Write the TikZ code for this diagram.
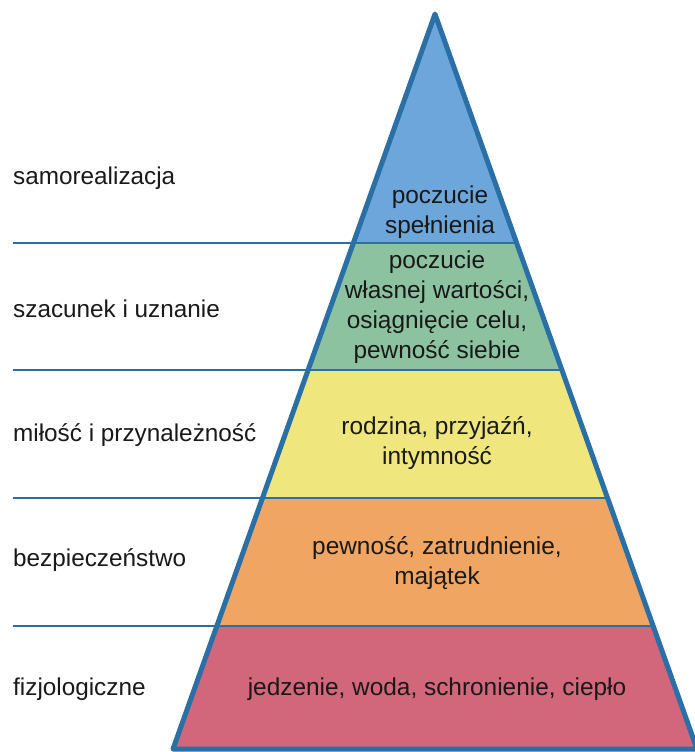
\documentclass[tikz,border=0pt]{standalone}
\usepackage{fontspec}
\setmainfont{Liberation Sans}
\usetikzlibrary{positioning, calc}
\definecolor{edgeBlue}{RGB}{42,111,165}
\definecolor{selfBlue}{RGB}{108,166,218}
\definecolor{esteemGreen}{RGB}{141,194,161}
\definecolor{loveYellow}{RGB}{240,230,126}
\definecolor{safeOrange}{RGB}{240,165,99}
\definecolor{bodyRed}{RGB}{210,102,122}
\definecolor{textDark}{RGB}{25,25,25}

\begin{document}
\begin{tikzpicture}[
    x=1pt, y=-1pt,
    need/.style={align=center, text=textDark, font=\fontsize{24.4}{30}\selectfont},
    tier/.style={anchor=west, text=textDark, inner sep=0pt, font=\fontsize{24.3}{30}\selectfont},
    sep/.style={draw=edgeBlue, line width=2.6pt},
    outline/.style={draw=edgeBlue, line width=5pt, line join=round}
]
\useasboundingbox (0,0) rectangle (694,752);

% pyramid corners
\coordinate (apex) at (435,14);
\coordinate (bl) at (173,749);
\coordinate (br) at (697,749);
\coordinate (margin) at (13,0);

% layer boundaries on both edges
\foreach \name/\t in {a/0.3116, b/0.4844, c/0.6585, d/0.8327} {
  \coordinate (\name L) at ($(apex)!\t!(bl)$);
  \coordinate (\name R) at ($(apex)!\t!(br)$);
}

% layers
\fill[selfBlue] (apex) -- (aR) -- (aL) -- cycle;
\fill[esteemGreen] (aL) -- (aR) -- (bR) -- (bL) -- cycle;
\fill[loveYellow] (bL) -- (bR) -- (cR) -- (cL) -- cycle;
\fill[safeOrange] (cL) -- (cR) -- (dR) -- (dL) -- cycle;
\fill[bodyRed] (dL) -- (dR) -- (br) -- (bl) -- cycle;

% separators
\foreach \name in {a, b, c, d} {
  \draw[sep] (margin |- \name L) -- (\name R);
}
\draw[outline] (apex) -- (br) -- (bl) -- cycle;

% texts inside
\node[need] (fulfil) at (440,212) {poczucie\\spełnienia};
\node[need] (worth) at (437,307) {poczucie\\własnej wartości,\\osiągnięcie celu,\\pewność siebie};
\node[need] (family) at (437,443) {rodzina, przyjaźń,\\intymność};
\node[need] (security) at (437,563) {pewność, zatrudnienie,\\majątek};
\node[need] (food) at (437,689) {jedzenie, woda, schronienie, ciepło};

% level names
\node[tier] (selfreal) at (13,178) {samorealizacja};
\node[tier] (esteem) at (13,309) {szacunek i uznanie};
\node[tier] (love) at (13,435) {miłość i przynależność};
\node[tier] (safety) at (13,560) {bezpieczeństwo};
\node[tier] (physio) at (13,689) {fizjologiczne};

\end{tikzpicture}
\end{document}
